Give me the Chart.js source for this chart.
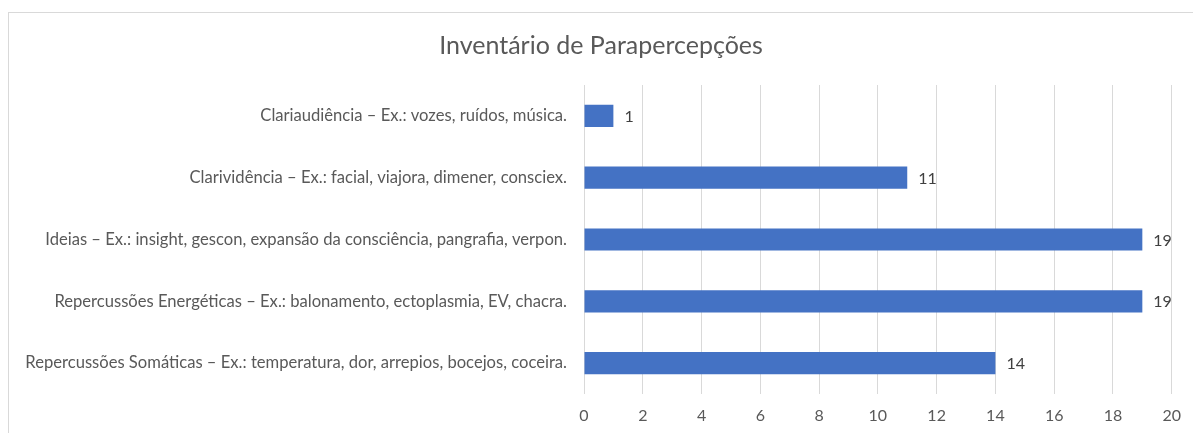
<!DOCTYPE html>
<html>
<head>
<meta charset="utf-8">
<script src="https://cdn.jsdelivr.net/npm/chart.js@4"></script>
<style>
  html, body { margin: 0; padding: 0; background: #ffffff; }
  #wrap { position: relative; width: 1193px; height: 433px; overflow: hidden; }
  #frame { position: absolute; left: 8px; top: 12px; width: 1300px; height: 600px;
           border-left: 1px solid #d9d9d9; border-top: 1px solid #d9d9d9; pointer-events: none; }
  canvas { position: absolute; left: 0; top: 0; }
</style>
</head>
<body>
<div id="wrap">
  <canvas id="c" width="1193" height="433"></canvas>
  <div id="frame"></div>
</div>
<script>
const chartTitle = "Inventário de Parapercepções";
const categories = [
  "Clariaudiência – Ex.: vozes, ruídos, música.",
  "Clarividência – Ex.: facial, viajora, dimener, consciex.",
  "Ideias – Ex.: insight, gescon, expansão da consciência, pangrafia, verpon.",
  "Repercussões Energéticas – Ex.: balonamento, ectoplasmia, EV, chacra.",
  "Repercussões Somáticas – Ex.: temperatura, dor, arrepios, bocejos, coceira."
];
const values = [1, 11, 19, 19, 14];
const xTicks = [0, 2, 4, 6, 8, 10, 12, 14, 16, 18, 20];

const FONT = "Lato, 'Open Sans', sans-serif";

const dataLabels = {
  id: 'dataLabels',
  afterDatasetsDraw(chart) {
    const ctx = chart.ctx;
    const meta = chart.getDatasetMeta(0);
    ctx.save();
    ctx.font = "16px " + FONT;
    ctx.fillStyle = "#404040";
    ctx.textAlign = "left";
    ctx.textBaseline = "middle";
    meta.data.forEach((bar, i) => {
      ctx.fillText(String(chart.data.datasets[0].data[i]), bar.x + 11, bar.y + 1);
    });
    ctx.restore();
  }
};

// Title centred on the (wider) chart frame, as in the reference
const frameTitle = {
  id: 'frameTitle',
  afterDraw(chart) {
    const ctx = chart.ctx;
    ctx.save();
    ctx.font = "25px " + FONT;
    ctx.fillStyle = "#595959";
    ctx.textAlign = "center";
    ctx.textBaseline = "middle";
    ctx.fillText(chartTitle, 601, 46);
    ctx.restore();
  }
};

new Chart(document.getElementById('c'), {
  type: 'bar',
  data: {
    labels: categories,
    datasets: [{
      data: values,
      backgroundColor: '#4472C4',
      borderWidth: 0,
      barPercentage: 0.36,
      categoryPercentage: 1.0
    }]
  },
  options: {
    indexAxis: 'y',
    responsive: false,
    animation: false,
    devicePixelRatio: 1,
    layout: { padding: { left: 0, right: 18, top: 85, bottom: 0 } },
    plugins: {
      legend: { display: false },
      tooltip: { enabled: false },
      title: { display: false }
    },
    scales: {
      x: {
        min: 0, max: 20,
        afterBuildTicks(scale) { scale.ticks = xTicks.map(v => ({ value: v })); },
        afterFit(scale) { scale.height = 39; },
        grid: { color: '#d9d9d9', lineWidth: 1, drawTicks: false },
        border: { display: false },
        ticks: { color: '#595959', font: { family: FONT, size: 16 }, padding: 12 }
      },
      y: {
        afterFit(scale) { scale.width = 584; },
        grid: { display: false, drawTicks: false },
        border: { display: false },
        ticks: { color: '#595959', font: { family: FONT, size: 16.6 }, padding: 17 }
      }
    }
  },
  plugins: [dataLabels, frameTitle]
});
</script>
</body>
</html>
